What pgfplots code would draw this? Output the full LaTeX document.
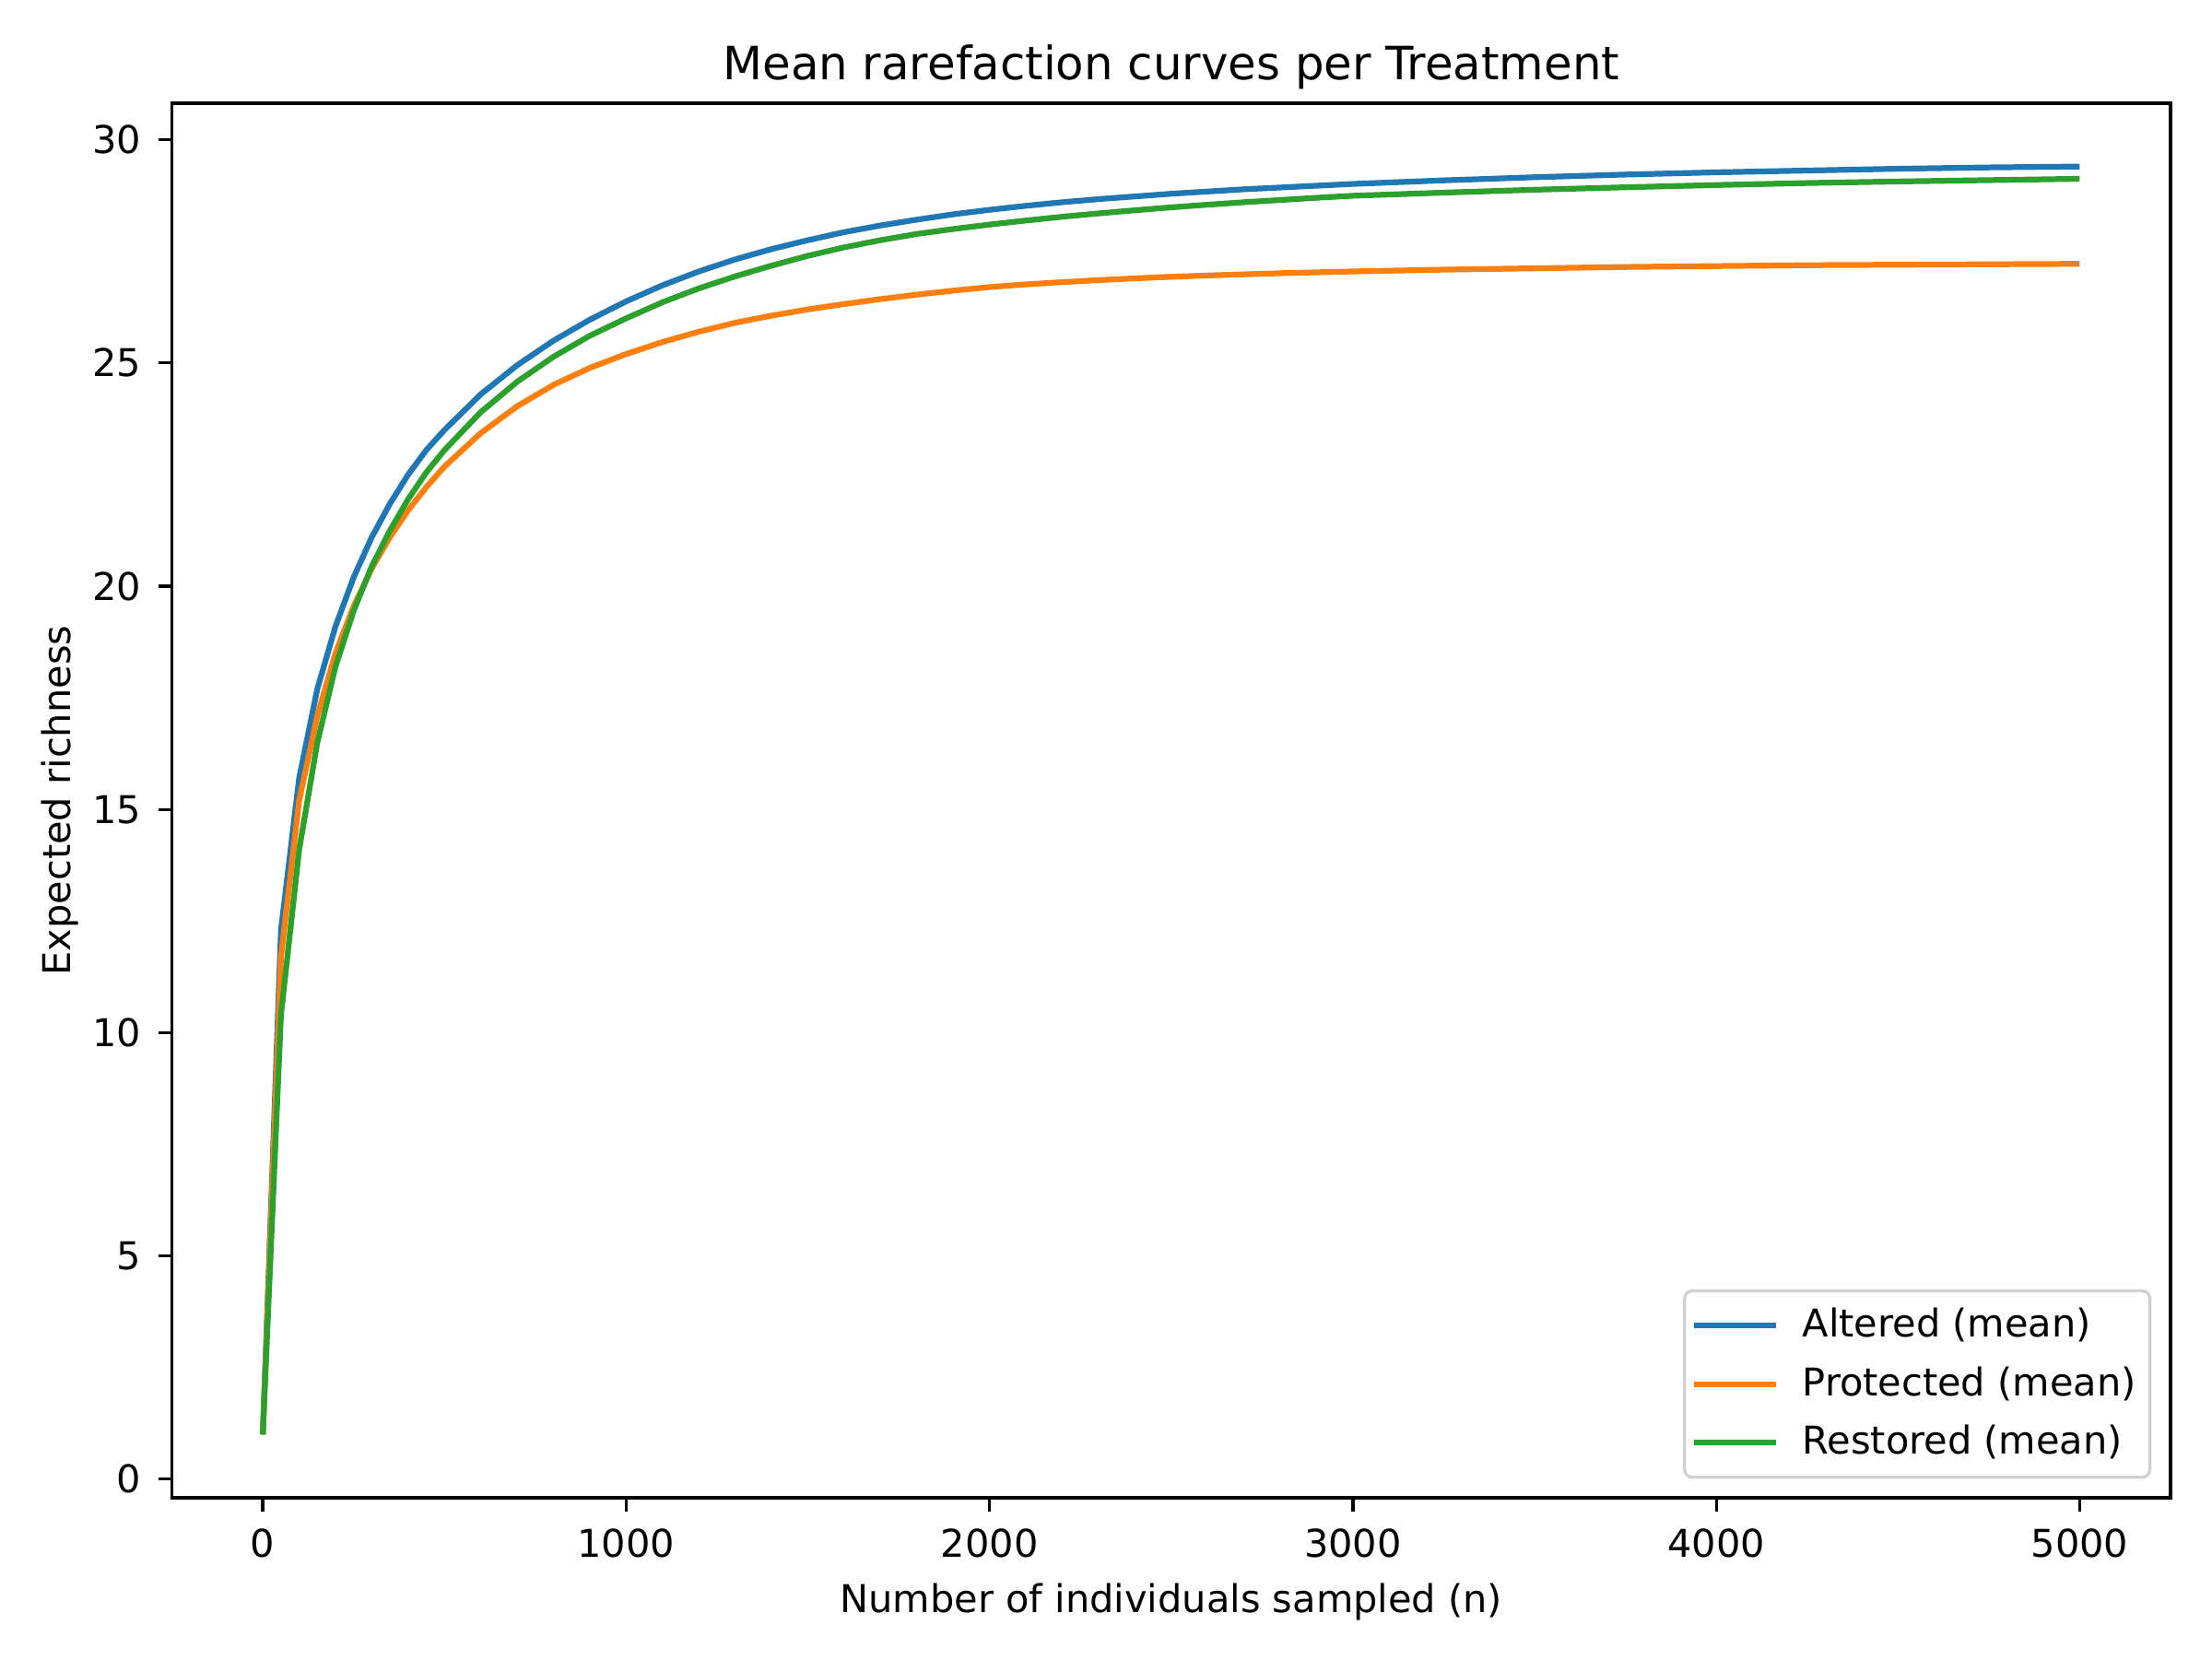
\documentclass[border=0pt]{standalone}
\usepackage{fontspec}
\setmainfont{DejaVu Sans}
\usepackage{pgfplots}
\pgfplotsset{compat=1.18}
\definecolor{tabblue}{HTML}{1F77B4}
\definecolor{taborange}{HTML}{FF7F0E}
\definecolor{tabgreen}{HTML}{2CA02C}
\begin{document}
\fontsize{10}{12}\selectfont
\begin{tikzpicture}
\useasboundingbox (-0.622in,-0.583in) rectangle (7.378in,5.417in);
\begin{axis}[
  at={(0,0)}, anchor=south west,
  scale only axis, width=7.228in, height=5.044in,
  xmin=-250, xmax=5250, ymin=-0.42, ymax=30.82,
  xtick={0,1000,2000,3000,4000,5000},
  ytick={0,5,10,15,20,25,30},
  /pgf/number format/assume math mode=true,
  /pgf/number format/1000 sep={},
  tick align=outside, major tick length=3.5pt,
  tick style={black, line width=0.8pt},
  axis line style={line width=0.8pt},
  xtick pos=bottom, ytick pos=left,
  tick label style={font=\fontsize{10}{12}\selectfont},
  xticklabel style={yshift=-1pt},
  yticklabel style={xshift=-1pt},
  title={Mean rarefaction curves per Treatment},
  title style={font=\fontsize{12}{14}\selectfont, yshift=-6pt},
  xlabel={Number of individuals sampled (n)},
  ylabel={Expected richness},
  label style={font=\fontsize{10}{12}\selectfont},
  ylabel style={yshift=-3.3pt},
  legend style={at={(1,0)}, anchor=south east, xshift=-5pt, yshift=5pt,
    draw=black!18, line width=0.8pt, rounded corners=2pt, fill=white, fill opacity=0.8, text opacity=1,
    font=\fontsize{10}{12}\selectfont, inner xsep=1.6pt, inner ysep=2.5pt,
    row sep=2.2pt, /tikz/every odd column/.append style={column sep=4.2pt}},
  legend cell align=left,
  legend image code/.code={\draw[#1, line width=1.5pt] (0pt,0pt) -- (21.5pt,0pt);},
  every axis plot/.append style={line width=1.5pt, line join=round},
]
\addplot[tabblue] coordinates {
(0,1) (50,12.3) (100,15.7) (150,17.7) (200,19.1) (250,20.2) (300,21.1) (350,21.85)
(400,22.5) (450,23.05) (500,23.5) (600,24.3) (700,24.95) (800,25.5) (900,25.97)
(1000,26.38) (1100,26.74) (1200,27.05) (1300,27.32) (1400,27.55) (1500,27.75) (1600,27.93)
(1700,28.08) (1800,28.21) (1900,28.33) (2000,28.43) (2100,28.52) (2200,28.6) (2300,28.67)
(2400,28.73) (2500,28.79) (2600,28.84) (2700,28.89) (2800,28.93) (2900,28.97) (3000,29.01)
(3250,29.09) (3500,29.16) (3750,29.22) (4000,29.27) (4250,29.31) (4500,29.35)
(4750,29.38) (5000,29.4)
};
\addlegendentry{Altered (mean)}
\addplot[taborange] coordinates {
(0,1) (50,11.7) (100,15.2) (150,17.1) (200,18.5) (250,19.55) (300,20.4) (350,21.1)
(400,21.7) (450,22.22) (500,22.68) (600,23.43) (700,24.03) (800,24.51) (900,24.89)
(1000,25.2) (1100,25.47) (1200,25.7) (1300,25.9) (1400,26.06) (1500,26.2) (1600,26.32)
(1700,26.43) (1800,26.53) (1900,26.62) (2000,26.7) (2100,26.76) (2200,26.81) (2300,26.855)
(2400,26.895) (2500,26.93) (2600,26.96) (2700,26.985) (2800,27.01) (2900,27.03) (3000,27.05)
(3250,27.09) (3500,27.12) (3750,27.15) (4000,27.17) (4250,27.19) (4500,27.2)
(4750,27.21) (5000,27.22)
};
\addlegendentry{Protected (mean)}
\addplot[tabgreen] coordinates {
(0,1) (50,10.4) (100,14.1) (150,16.5) (200,18.2) (250,19.45) (300,20.45) (350,21.25)
(400,21.95) (450,22.55) (500,23.05) (600,23.9) (700,24.58) (800,25.14) (900,25.61)
(1000,26.0) (1100,26.36) (1200,26.67) (1300,26.94) (1400,27.18) (1500,27.4) (1600,27.59)
(1700,27.75) (1800,27.89) (1900,28.0) (2000,28.1) (2100,28.19) (2200,28.275) (2300,28.35)
(2400,28.42) (2500,28.485) (2600,28.545) (2700,28.6) (2800,28.65) (2900,28.7) (3000,28.745)
(3250,28.815) (3500,28.88) (3750,28.935) (4000,28.985) (4250,29.03) (4500,29.065)
(4750,29.095) (5000,29.125)
};
\addlegendentry{Restored (mean)}
\end{axis}
\end{tikzpicture}
\end{document}
